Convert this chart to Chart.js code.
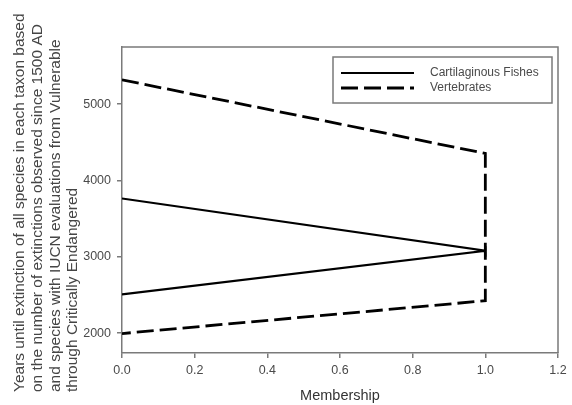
<!DOCTYPE html>
<html>
<head>
<meta charset="utf-8">
<script src="https://cdn.jsdelivr.net/npm/chart.js@4.4.0/dist/chart.umd.min.js"></script>
<style>
  html, body { margin: 0; padding: 0; background: #fff; }
  #wrap { width: 572px; height: 405px; }
</style>
</head>
<body>
<div id="wrap"><canvas id="chart"></canvas></div>
<script>
// data
let fishX = [0, 1, 1, 1, 1, 0];
let fishY = [3765, 3080, 3140, 3000, 3080, 2507];
let vertX = [0, 1, 1, 0];
let vertY = [5320, 4355, 2425, 1995];
let seriesNames = ['Cartilaginous Fishes', 'Vertebrates'];
let xTicks = [0, 0.2, 0.4, 0.6, 0.8, 1.0, 1.2];
let yTicks = [2000, 3000, 4000, 5000];
let yTitle = [
  'Years until extinction of all species in each taxon based',
  'on the number of extinctions observed since 1500 AD',
  'and species with IUCN evaluations from Vulnerable',
  'through Critically Endangered'
];

let axisGrey = '#7a7a7a';
let textGrey = '#4a4a4a';
let fontFam = '"Liberation Sans", Arial, sans-serif';

function toPoints(xs, ys) {
  return xs.map(function(x, i) { return { x: x, y: ys[i] }; });
}

// top and right edges of the plot box
let frame = {
  id: 'frame',
  afterDraw: function(chart) {
    let a = chart.chartArea;
    let ctx = chart.ctx;
    ctx.save();
    ctx.strokeStyle = axisGrey;
    ctx.lineWidth = 1.5;
    ctx.beginPath();
    ctx.moveTo(a.left, a.top);
    ctx.lineTo(a.right, a.top);
    ctx.lineTo(a.right, a.bottom);
    ctx.stroke();
    ctx.restore();
  }
};

// the y title runs lower than the plot, so it is drawn here
let sideTitle = {
  id: 'sideTitle',
  afterDraw: function(chart) {
    let ctx = chart.ctx;
    ctx.save();
    ctx.fillStyle = '#454545';
    ctx.font = '15.5px ' + fontFam;
    ctx.textAlign = 'left';
    ctx.textBaseline = 'middle';
    yTitle.forEach(function(line, i) {
      ctx.save();
      ctx.translate(20 + i * 17.7, 392);
      ctx.rotate(-Math.PI / 2);
      ctx.fillText(line, 0, 0);
      ctx.restore();
    });
    ctx.restore();
  }
};

// legend box in the top right corner of the plot
let boxLegend = {
  id: 'boxLegend',
  afterDraw: function(chart) {
    let ctx = chart.ctx;
    let x0 = 333, y0 = 57, w = 219, h = 46;
    ctx.save();
    ctx.fillStyle = '#fff';
    ctx.fillRect(x0, y0, w, h);
    ctx.strokeStyle = axisGrey;
    ctx.lineWidth = 1.5;
    ctx.strokeRect(x0, y0, w, h);
    chart.data.datasets.forEach(function(ds, i) {
      let y = 73 + i * 15;
      ctx.strokeStyle = ds.borderColor;
      ctx.lineWidth = ds.borderWidth;
      ctx.setLineDash(ds.borderDash || []);
      ctx.beginPath();
      ctx.moveTo(341, y);
      ctx.lineTo(414, y);
      ctx.stroke();
      ctx.setLineDash([]);
      ctx.fillStyle = textGrey;
      ctx.font = '12px ' + fontFam;
      ctx.textBaseline = 'middle';
      ctx.fillText(ds.label, 430, y);
    });
    ctx.restore();
  }
};

let ctx = document.getElementById('chart').getContext('2d');
let chart = new Chart(ctx, {
  type: 'scatter',
  data: {
    datasets: [{
      label: seriesNames[0],
      data: toPoints(fishX, fishY),
      showLine: true,
      borderColor: '#000',
      borderWidth: 2.2,
      pointRadius: 0,
      tension: 0
    }, {
      label: seriesNames[1],
      data: toPoints(vertX, vertY),
      showLine: true,
      borderColor: '#000',
      borderWidth: 2.8,
      borderDash: [17, 6],
      pointRadius: 0,
      tension: 0
    }]
  },
  options: {
    responsive: true,
    maintainAspectRatio: false,
    animation: false,
    layout: { padding: { top: 47, right: 14, left: 0, bottom: 0 } },
    plugins: {
      legend: { display: false },
      tooltip: { enabled: false }
    },
    scales: {
      x: {
        type: 'linear',
        min: 0,
        max: 1.2,
        afterBuildTicks: function(s) { s.ticks = xTicks.map(function(v) { return { value: v }; }); },
        afterFit: function(s) { s.height = 52; },
        border: { color: axisGrey, width: 1.5 },
        grid: { drawOnChartArea: false, tickLength: 5, color: axisGrey, lineWidth: 1.5 },
        ticks: {
          color: textGrey,
          padding: 5,
          maxRotation: 0,
          font: { family: fontFam, size: 12.5 },
          callback: function(v) { return Number(v).toFixed(1); }
        },
        title: {
          display: true,
          text: 'Membership',
          color: '#333',
          padding: { top: 2, bottom: 0 },
          font: { family: fontFam, size: 14.5 }
        }
      },
      y: {
        type: 'linear',
        min: 1740,
        max: 5750,
        afterBuildTicks: function(s) { s.ticks = yTicks.map(function(v) { return { value: v }; }); },
        afterFit: function(s) { s.width = 122; },
        border: { color: axisGrey, width: 1.5 },
        grid: { drawOnChartArea: false, tickLength: 5, color: axisGrey, lineWidth: 1.5 },
        ticks: {
          color: textGrey,
          padding: 6,
          font: { family: fontFam, size: 12.5 },
          callback: function(v) { return String(v); }
        },
        title: { display: false }
      }
    }
  },
  plugins: [frame, sideTitle, boxLegend]
});
</script>
</body>
</html>
